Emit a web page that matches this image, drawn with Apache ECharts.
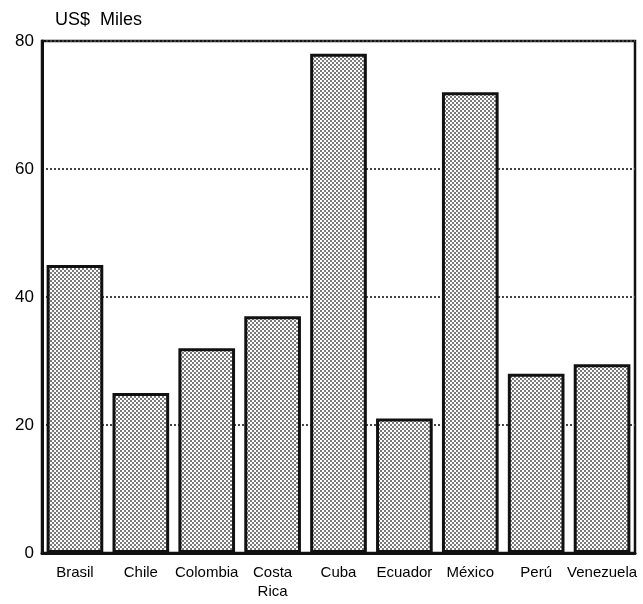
<!DOCTYPE html>
<html>
<head>
<meta charset="utf-8">
<script src="https://cdn.jsdelivr.net/npm/echarts@6/dist/echarts.min.js"></script>
<style>
  html, body { margin: 0; padding: 0; background: #fff; }
  #chart { width: 643px; height: 604px; }
</style>
</head>
<body>
<div id="chart"></div>
<script>
const countries = ['Brasil', 'Chile', 'Colombia', 'Costa\nRica', 'Cuba', 'Ecuador', 'México', 'Perú', 'Venezuela']
const values = [45, 25, 32, 37, 78, 21, 72, 28, 29.5]
const yTicks = [0, 20, 40, 60, 80]

const font = "'Liberation Sans Narrow', 'Liberation Sans', Arial, sans-serif"

// halftone fill: white dots on gray, staggered rows
const makePattern = () => {
  const c = document.createElement('canvas')
  c.width = 4
  c.height = 4
  const ctx = c.getContext('2d')
  ctx.fillStyle = '#7a7a7a'
  ctx.fillRect(0, 0, 4, 4)
  ctx.fillStyle = '#ffffff'
  ctx.fillRect(0, 0, 2, 2)
  ctx.fillRect(2, 2, 2, 2)
  return c
}

const chart = echarts.init(document.getElementById('chart'))

chart.setOption({
  animation: false,
  backgroundColor: '#fff',
  title: {
    text: 'US$  Miles',
    left: 50,
    top: 6,
    textStyle: { fontFamily: font, fontSize: 18, fontWeight: 'normal', color: '#000' }
  },
  grid: {
    left: 42,
    right: 8,
    top: 41,
    bottom: 51,
    show: true,
    backgroundColor: '#fff',
    borderColor: '#111',
    borderWidth: 2.5
  },
  xAxis: {
    type: 'category',
    data: countries,
    axisLine: { show: true, lineStyle: { color: '#111', width: 3 } },
    axisTick: { show: true, inside: true, alignWithLabel: true, length: 5, lineStyle: { color: '#333', width: 1 } },
    axisLabel: { fontFamily: font, fontSize: 15, color: '#000', margin: 10, lineHeight: 19, interval: 0 }
  },
  yAxis: {
    type: 'value',
    min: 0,
    max: 80,
    interval: 20,
    axisLine: { show: true, lineStyle: { color: '#111', width: 3 } },
    axisTick: { show: false },
    axisLabel: {
      fontFamily: font, fontSize: 17, color: '#000', margin: 8,
      formatter: v => (yTicks.includes(v) ? String(v) : '')
    },
    splitLine: {
      show: true,
      lineStyle: { color: '#444', width: 2, type: [2, 2] }
    }
  },
  series: [{
    type: 'bar',
    data: values,
    barCategoryGap: '14%',
    itemStyle: {
      color: { image: makePattern(), repeat: 'repeat' },
      borderColor: '#111',
      borderWidth: 3
    }
  }]
})
</script>
</body>
</html>
